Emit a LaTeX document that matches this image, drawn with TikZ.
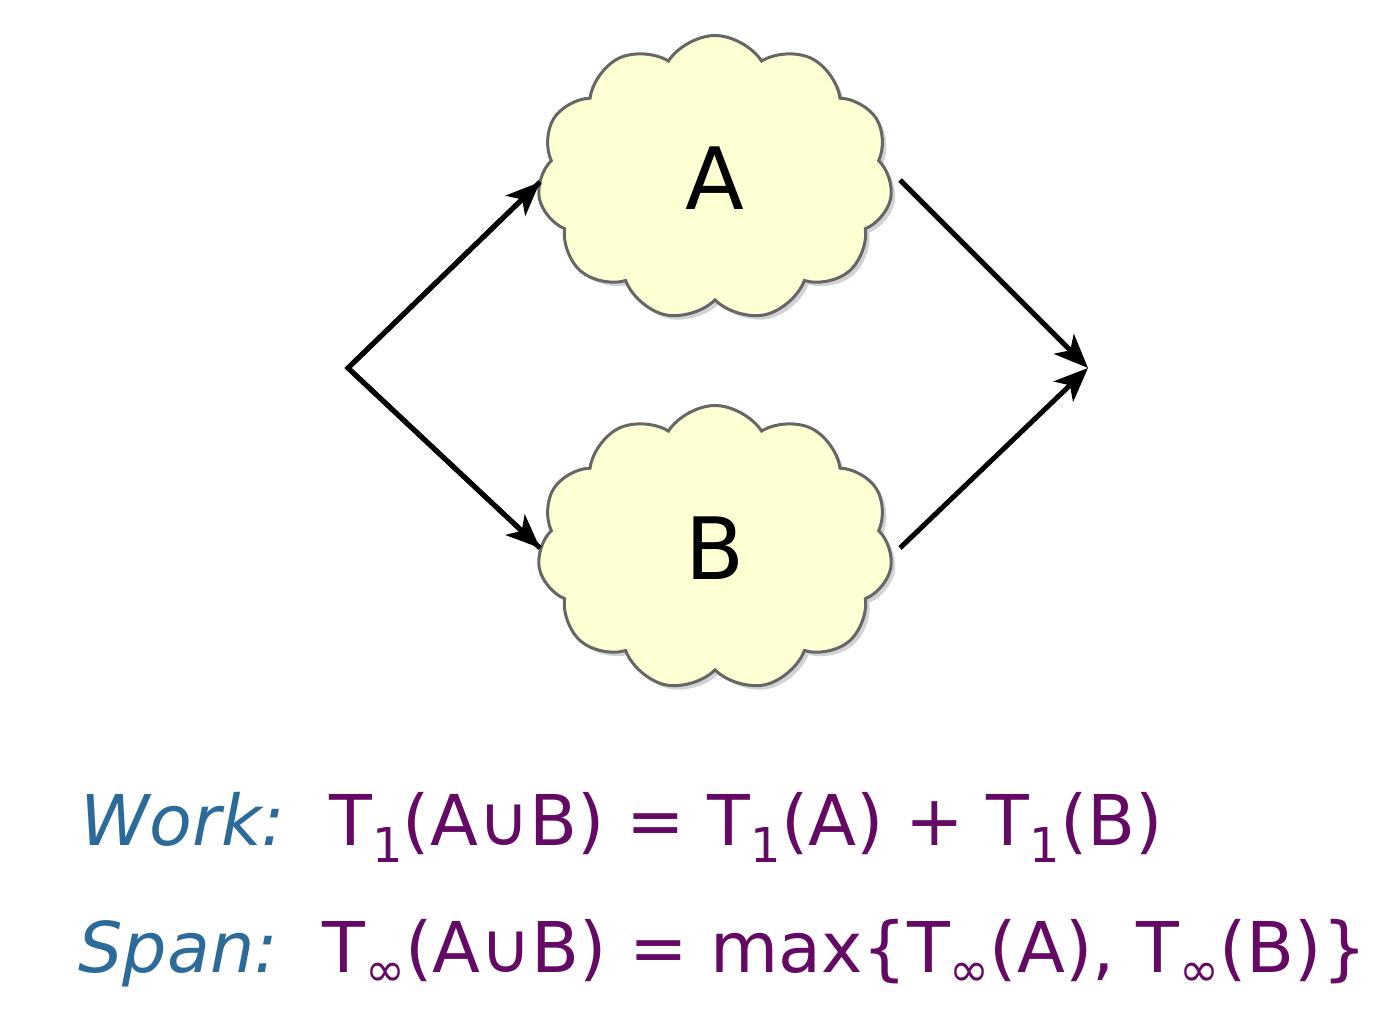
\documentclass[tikz,border=0pt]{standalone}
\usepackage{fontspec}
\setmainfont{DejaVu Sans}
\usetikzlibrary{shapes.symbols,shadows,arrows.meta}
\definecolor{cloudfill}{HTML}{FFFFD4}
\definecolor{workblue}{HTML}{2C6A9A}
\definecolor{formpurple}{HTML}{640A64}
\tikzset{
  cloudnode/.style={cloud, cloud puffs=11, cloud puff arc=115, aspect=1.2, draw=black!60, line width=3pt, fill=cloudfill, minimum width=355pt, minimum height=285pt, drop shadow={shadow xshift=4pt, shadow yshift=-4pt, opacity=0.35}, font=\fontsize{86}{90}\selectfont, inner sep=0pt},
  conn/.style={line width=5pt, -{Stealth[length=34pt,width=28pt,inset=9pt]}},
  lbl/.style={anchor=base west, font=\fontsize{70}{80}\selectfont, inner sep=0pt}
}
\newcommand{\inft}{\raisebox{-0.2em}{\fontsize{48}{48}\selectfont ∞}}
\newcommand{\one}{\raisebox{-0.25em}{\fontsize{48}{48}\selectfont 1}}
\begin{document}
\begin{tikzpicture}[x=1pt,y=-1pt]
\useasboundingbox (0,0) rectangle (1392,1022);
\node[cloudnode] (A) at (715,178) {A};
\node[cloudnode] (B) at (715,548) {B};
\coordinate (S) at (348,368);
\coordinate (E) at (1088,368);
\coordinate (Ain) at (540,182);
\coordinate (Bin) at (540,548);
\coordinate (Aout) at (900,180);
\coordinate (Bout) at (900,548);
\draw[line width=5pt, line join=miter] (Ain) -- (S) -- (Bin);
\draw[conn] (S) -- (Ain);
\draw[conn] (S) -- (Bin);
\draw[conn] (Aout) -- (E);
\draw[conn] (Bout) -- (E);
\node[lbl] (w) at (80,845) {\textcolor{workblue}{\textit{Work:}}\ \ \textcolor{formpurple}{T\one(A∪B) = T\one(A) + T\one(B)}};
\node[lbl] (s) at (78,972) {\textcolor{workblue}{\textit{Span:}}\ \ \textcolor{formpurple}{T\inft(A∪B) = max\{T\inft(A), T\inft(B)\}}};
\end{tikzpicture}
\end{document}
